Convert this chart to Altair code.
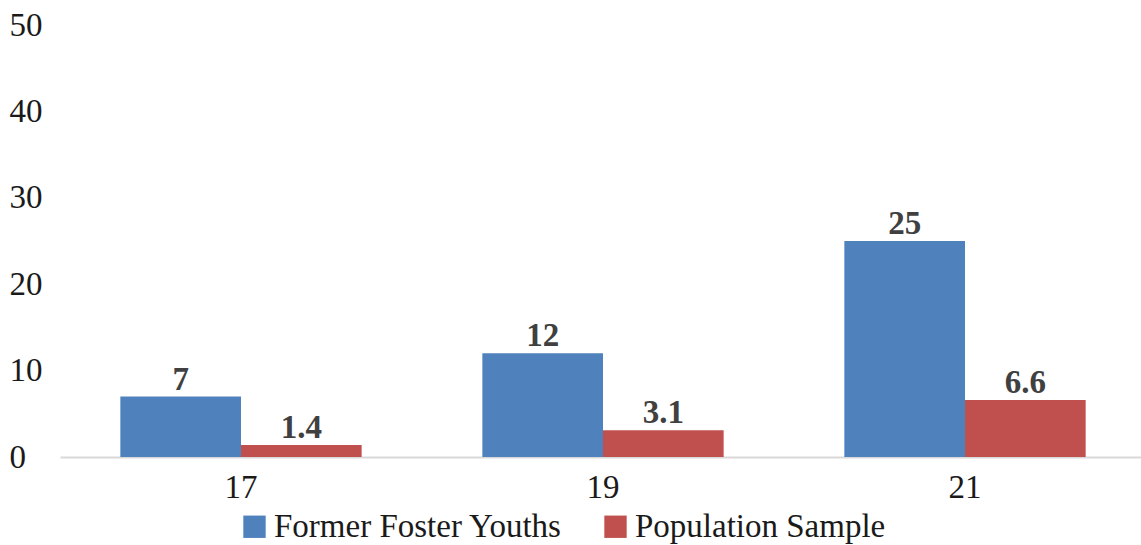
import altair as alt
import pandas as pd

ages = ["17", "19", "21"]
series_names = ["Former Foster Youths", "Population Sample"]
former_foster = [7, 12, 25]
population = [1.4, 3.1, 6.6]
label_ffy = ["7", "12", "25"]
label_pop = ["1.4", "3.1", "6.6"]
colors = ["#4F81BD", "#C0504D"]

rows = []
for a, v, l in zip(ages, former_foster, label_ffy):
    rows.append({"age": a, "series": series_names[0], "value": v, "label": l})
for a, v, l in zip(ages, population, label_pop):
    rows.append({"age": a, "series": series_names[1], "value": v, "label": l})
df = pd.DataFrame(rows)

FONT = "Liberation Serif"

x_enc = alt.X(
    "age:N",
    sort=ages,
    scale=alt.Scale(range=[0, 1086], paddingInner=0.3334, paddingOuter=0.1667),
    axis=alt.Axis(
        title=None, labelAngle=0, ticks=False, tickSize=0, domain=True,
        domainColor="#D9D9D9", domainWidth=2, labelFont=FONT, labelFontSize=33,
        labelColor="#1a1a1a", labelPadding=14, labelBaseline="top", grid=False,
    ),
)
xo_enc = alt.XOffset("series:N", sort=series_names,
                     scale=alt.Scale(paddingInner=0, paddingOuter=0))
y_enc = alt.Y(
    "value:Q",
    scale=alt.Scale(domain=[0, 50]),
    axis=alt.Axis(
        title=None, values=[0, 10, 20, 30, 40, 50], ticks=False, tickSize=0,
        domain=False, grid=False, labelAlign="left", labelPadding=51,
        labelFont=FONT, labelFontSize=33, labelColor="#1a1a1a",
    ),
)

bars = alt.Chart(df).mark_bar().encode(
    x=x_enc,
    xOffset=xo_enc,
    y=y_enc,
    color=alt.Color(
        "series:N",
        sort=series_names,
        scale=alt.Scale(domain=series_names, range=colors),
        legend=alt.Legend(
            title=None, orient="none", direction="horizontal",
            legendX=178, legendY=485, symbolType="square", symbolSize=500,
            symbolStrokeWidth=0, labelFont=FONT, labelFontSize=33,
            labelColor="#1a1a1a", labelOffset=3, columnPadding=36, padding=0,
            labelLimit=600,
        ),
    ),
)

texts = alt.Chart(df).mark_text(
    font=FONT, fontSize=33, fontWeight="bold", color="#404040",
    baseline="alphabetic", dy=-7,
).encode(
    x=x_enc,
    xOffset=xo_enc,
    y=y_enc,
    text="label:N",
)

chart = alt.layer(bars, texts).properties(
    width=1081,
    height=432,
    background="white",
    autosize=alt.AutoSizeParams(type="none"),
    padding={"left": 60, "top": 25, "right": 0, "bottom": 88},
).configure_view(stroke=None, strokeWidth=0).configure_axis(grid=False)

chart.save("out.html", embed_options={"renderer": "svg", "actions": False})
